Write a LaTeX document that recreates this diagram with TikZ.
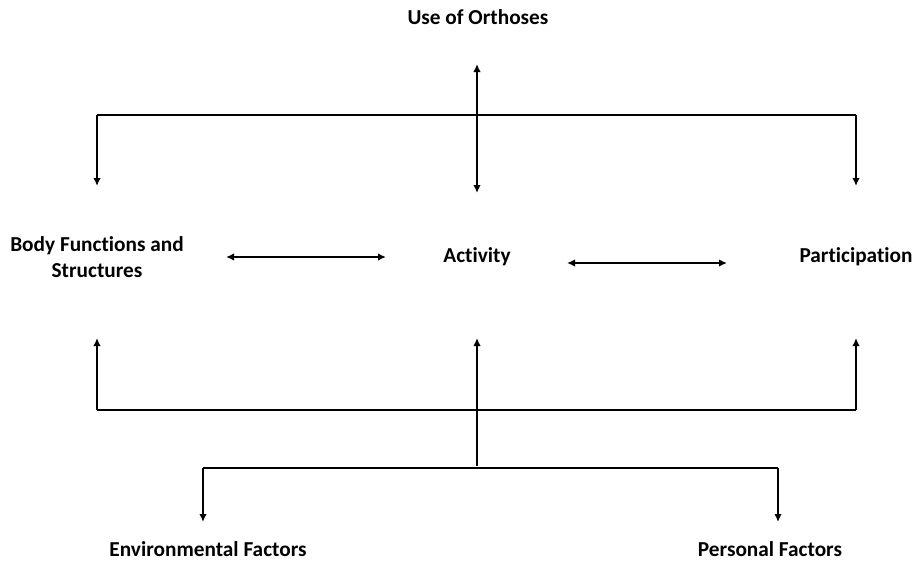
\documentclass[tikz,border=0pt]{standalone}
\usepackage{fontspec}
\setmainfont[Ligatures=NoCommon]{Carlito}
\usepackage{tikz}
\usetikzlibrary{arrows.meta}

\begin{document}
\begin{tikzpicture}[x=1pt, y=-1pt, >={Latex[length=8pt,width=7.5pt]}, line width=2.4pt,
    lbl/.style={font=\bfseries\fontsize{21.3}{26}\selectfont, align=center, inner sep=0pt}]
    \useasboundingbox (0,0) rectangle (915,562);
    % labels
    \node[lbl] (orth) at (478,17) {Use of Orthoses};
    \node[lbl] (body) at (97,257) {Body Functions and\\Structures};
    \node[lbl] (act) at (477,257) {Activity};
    \node[lbl] (part) at (856,257) {Participation};
    \node[lbl] (env) at (208,549) {Environmental Factors};
    \node[lbl] (pers) at (770,549) {Personal Factors};
    % top bracket
    \coordinate (tl) at (97,115);
    \coordinate (tr) at (856,115);
    \coordinate (tlend) at (97,186);
    \coordinate (trend) at (856,186);
    \coordinate (ttop) at (477,64);
    \coordinate (tbot) at (477,193);
    \draw[->] (tr) -- (trend);
    \draw[->] (tl) -- (tlend);
    \draw (tl) -- (tr);
    \draw[<->] (ttop) -- (tbot);
    % middle arrows
    \coordinate (m1a) at (226,257);
    \coordinate (m1b) at (386,257);
    \coordinate (m2a) at (567,263);
    \coordinate (m2b) at (727,263);
    \draw[<->] (m1a) -- (m1b);
    \draw[<->] (m2a) -- (m2b);
    % lower bracket
    \coordinate (bl) at (97,410);
    \coordinate (br) at (856,410);
    \coordinate (bltip) at (97,338);
    \coordinate (brtip) at (856,338);
    \coordinate (bmid) at (477,466);
    \coordinate (bmtip) at (477,338);
    \draw[->] (bl) -- (bltip);
    \draw[->] (br) -- (brtip);
    \draw (bl) -- (br);
    \draw[->] (bmid) -- (bmtip);
    % factors
    \coordinate (fl) at (203,468);
    \coordinate (fr) at (778,468);
    \coordinate (fltip) at (203,522);
    \coordinate (frtip) at (778,522);
    \draw (fl) -- (fr);
    \draw[->] (fl) -- (fltip);
    \draw[->] (fr) -- (frtip);
\end{tikzpicture}
\end{document}
